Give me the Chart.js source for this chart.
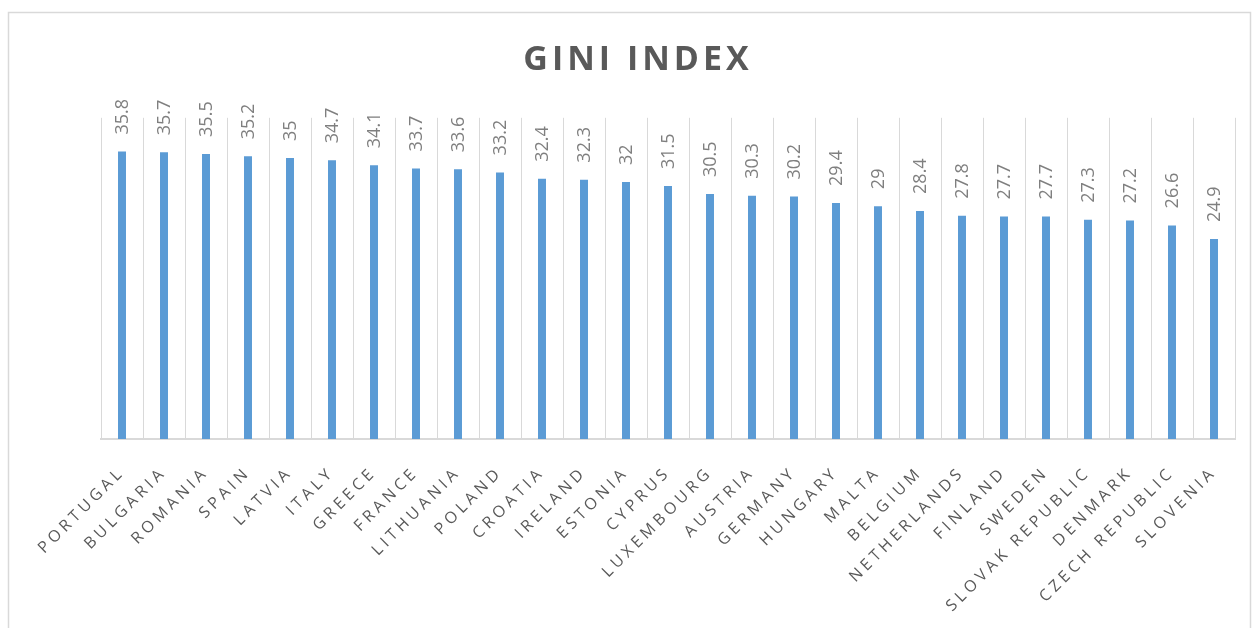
<!DOCTYPE html>
<html>
<head>
<meta charset="utf-8">
<script src="https://cdn.jsdelivr.net/npm/chart.js@4"></script>
<style>
html,body{margin:0;padding:0;background:#fff;}
#wrap{position:relative;width:1252px;height:628px;}
</style>
</head>
<body>
<div id="wrap"><canvas id="c" width="1252" height="628"></canvas></div>
<script>
const categories = ["PORTUGAL","BULGARIA","ROMANIA","SPAIN","LATVIA","ITALY","GREECE","FRANCE","LITHUANIA","POLAND","CROATIA","IRELAND","ESTONIA","CYPRUS","LUXEMBOURG","AUSTRIA","GERMANY","HUNGARY","MALTA","BELGIUM","NETHERLANDS","FINLAND","SWEDEN","SLOVAK REPUBLIC","DENMARK","CZECH REPUBLIC","SLOVENIA"];
const giniValues = [35.8,35.7,35.5,35.2,35,34.7,34.1,33.7,33.6,33.2,32.4,32.3,32,31.5,30.5,30.3,30.2,29.4,29,28.4,27.8,27.7,27.7,27.3,27.2,26.6,24.9];
const titleText = "GINI INDEX";

const spacingPlugin = {
  id: 'spacing',
  beforeDraw(chart) {
    const ctx = chart.ctx;
    ctx.letterSpacing = '4px';
    ctx.save();
    ctx.strokeStyle = '#d9d9d9';
    ctx.lineWidth = 1.5;
    ctx.strokeRect(8.5, 12.5, 1242, 640);
    ctx.restore();
  }
};

const labelPlugin = {
  id: 'barLabels',
  afterDatasetsDraw(chart) {
    const ctx = chart.ctx;
    const meta = chart.getDatasetMeta(0);
    const ds = chart.data.datasets[0].data;
    ctx.save();
    ctx.letterSpacing = '0px';
    ctx.font = '18px "Open Sans"';
    ctx.fillStyle = '#7f7f7f';
    ctx.textAlign = 'left';
    ctx.textBaseline = 'middle';
    meta.data.forEach((bar, i) => {
      ctx.save();
      ctx.translate(bar.x + 1, bar.y - 17);
      ctx.rotate(-Math.PI / 2);
      ctx.fillText(String(ds[i]), 0, 0);
      ctx.restore();
    });
    ctx.restore();
  }
};

new Chart(document.getElementById('c'), {
  type: 'bar',
  data: {
    labels: categories,
    datasets: [{
      data: giniValues,
      backgroundColor: '#5B9BD5',
      barPercentage: 0.19,
      categoryPercentage: 1.0
    }]
  },
  options: {
    responsive: false,
    animation: false,
    events: [],
    layout: { padding: { left: 41, right: 17, top: 0, bottom: 0 } },
    plugins: {
      legend: { display: false },
      tooltip: { enabled: false },
      title: {
        display: true,
        text: titleText,
        color: '#595959',
        font: { family: '"Open Sans"', size: 34, weight: 'bold' },
        padding: { top: 40, bottom: 37 }
      }
    },
    scales: {
      x: {
        grid: { display: true, color: '#d9d9d9', lineWidth: 1, offset: true, drawTicks: false },
        border: { display: true, color: '#d9d9d9', width: 2 },
        ticks: {
          autoSkip: false,
          minRotation: 45,
          maxRotation: 45,
          padding: 24,
          color: '#595959',
          font: { family: '"Open Sans"', size: 16 }
        },
        afterFit(scale) { scale.height = 189; }
      },
      y: {
        min: 0,
        max: 40,
        grid: { display: false },
        border: { display: false },
        ticks: { display: false },
        afterFit(scale) { scale.width = 60; }
      }
    }
  },
  plugins: [spacingPlugin, labelPlugin]
});
</script>
</body>
</html>
